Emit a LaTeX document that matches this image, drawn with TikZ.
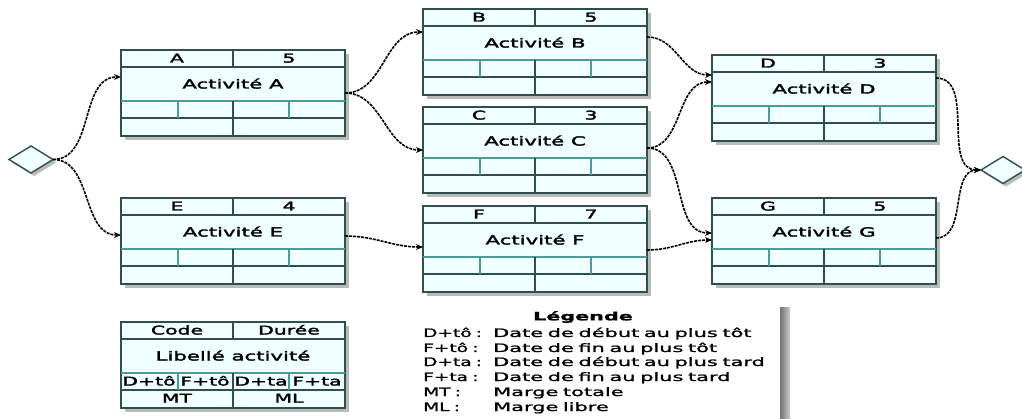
\documentclass[tikz,border=0pt]{standalone}
\usepackage{fontspec}
\newfontfamily\dgfont[FakeStretch=1.7, FakeBold=2.5]{DejaVu Sans}
\newfontfamily\dglegend[FakeStretch=1.8, FakeBold=1.5, WordSpace=0.7]{DejaVu Sans}
\newfontfamily\dgkey[FakeStretch=1.6, FakeBold=1.5, WordSpace=0.7]{DejaVu Sans}
\usetikzlibrary{arrows.meta,shapes.geometric,shadows,calc}

\definecolor{boxfill}{HTML}{F0FFFF}
\definecolor{boxline}{HTML}{2F4F4F}
\definecolor{celline}{HTML}{4E9A9A}

\tikzset{
  actbox/.style={draw=boxline, line width=1.6pt, fill=boxfill,
    minimum width=224pt, minimum height=86pt, inner sep=0pt, outer sep=0pt,
    anchor=north west,
    drop shadow={shadow xshift=4pt, shadow yshift=-4pt, opacity=0.45, fill=black!60}},
  rowline/.style={draw=boxline, line width=1.2pt},
  cellline/.style={draw=celline, line width=1.2pt},
  colline/.style={draw=boxline, line width=2pt},
  cellcol/.style={draw=celline, line width=2pt},
  boxtext/.style={font=\dgfont\fontsize{12}{14}\selectfont, inner sep=0pt,
    text height=9pt, text depth=2pt},
  titletext/.style={font=\dgfont\fontsize{12.5}{14}\selectfont, inner sep=0pt,
    text height=9pt, text depth=2pt},
  legtext/.style={font=\dglegend\fontsize{11.6}{13}\selectfont, inner sep=0pt,
    anchor=base west},
  legkey/.style={font=\dgkey\fontsize{11.6}{13}\selectfont, inner sep=0pt,
    anchor=base west},
  link/.style={draw=black, line width=1.6pt, dash pattern=on 3pt off 1pt,
    -{Stealth[length=7pt,width=6pt]}},
  milestone/.style={diamond, draw=boxline, line width=1.4pt, fill=boxfill,
    minimum width=44pt, minimum height=27pt, inner sep=0pt, outer sep=0pt,
    drop shadow={shadow xshift=3pt, shadow yshift=-3pt, opacity=0.45, fill=black!60}},
}

% Activity box: name, x, y, code, duration, label
\newcommand\ActBox[6]{%
  \node[actbox] (#1) at (#2,#3) {};
  \draw[rowline]  ($(#1.north west)+(0,17)$) -- ($(#1.north east)+(0,17)$);
  \draw[cellline] ($(#1.north west)+(0,51)$) -- ($(#1.north east)+(0,51)$);
  \draw[rowline]  ($(#1.north west)+(0,68)$) -- ($(#1.north east)+(0,68)$);
  \draw[colline]  ($(#1.north west)+(112,0)$) -- ($(#1.north west)+(112,17)$);
  \draw[colline]  ($(#1.north west)+(112,51)$) -- ($(#1.north west)+(112,86)$);
  \draw[cellcol]  ($(#1.north west)+(57,51)$) -- ($(#1.north west)+(57,68)$);
  \draw[cellcol]  ($(#1.north west)+(168,51)$) -- ($(#1.north west)+(168,68)$);
  \node[boxtext]   (#1-code)  at ($(#1.north west)+(56,9)$)   {#4};
  \node[boxtext]   (#1-dur)   at ($(#1.north west)+(168,9)$)  {#5};
  \node[titletext] (#1-label) at ($(#1.north west)+(112,35)$) {#6};
}

\begin{document}
\begin{tikzpicture}[x=1pt, y=-1pt]
\useasboundingbox (0,0) rectangle (1022,419);

% activity network
\ActBox{A}{121}{50}{A}{5}{Activité A}
\ActBox{E}{121}{198}{E}{4}{Activité E}
\ActBox{B}{423}{9}{B}{5}{Activité B}
\ActBox{C}{423}{107}{C}{3}{Activité C}
\ActBox{F}{423}{206}{F}{7}{Activité F}
\ActBox{D}{712}{55}{D}{3}{Activité D}
\ActBox{G}{712}{198}{G}{5}{Activité G}

\node[milestone] (start) at (31,159.5) {};
\node[milestone] (end) at (1003,170) {};

% precedence links
\draw[link] (start.east) to[out=0, in=180] ($(A.north west)+(0,27)$);
\draw[link] (start.east) to[out=0, in=180] ($(E.north west)+(0,37)$);
\draw[link] ($(A.north east)+(0,43)$) to[out=0, in=180] ($(B.north west)+(0,23)$);
\draw[link] ($(A.north east)+(0,43)$) to[out=0, in=180] ($(C.north west)+(0,43)$);
\draw[link] ($(B.north east)+(0,28)$) to[out=0, in=180] ($(D.north west)+(0,20)$);
\draw[link] ($(C.north east)+(0,41)$) to[out=0, in=180] ($(D.north west)+(0,27)$);
\draw[link] ($(C.north east)+(0,41)$) to[out=0, in=180] ($(G.north west)+(0,35)$);
\draw[link] ($(E.north east)+(0,38)$) to[out=0, in=180] ($(F.north west)+(0,41)$);
\draw[link] ($(F.north east)+(0,44)$) to[out=0, in=180] ($(G.north west)+(0,42)$);
\draw[link] ($(D.north east)+(0,23)$) to[out=0, in=180] (end.west);
\draw[link] ($(G.north east)+(0,40)$) to[out=0, in=180] (end.west);

% key box
\ActBox{K}{121}{322}{Code}{Durée}{Libellé activité}
\node[boxtext] (K-dto) at ($(K.north west)+(28,60)$)  {D+tô};
\node[boxtext] (K-fto) at ($(K.north west)+(84,60)$)  {F+tô};
\node[boxtext] (K-dta) at ($(K.north west)+(140,60)$) {D+ta};
\node[boxtext] (K-fta) at ($(K.north west)+(196,60)$) {F+ta};
\node[boxtext] (K-mt)  at ($(K.north west)+(56,77)$)  {MT};
\node[boxtext] (K-ml)  at ($(K.north west)+(168,77)$) {ML};

% legend
\node[font=\dglegend\bfseries\fontsize{11.5}{13}\selectfont, inner sep=0pt] (leg) at (583,317) {Légende};
\node[legkey] (l1) at (423,337) {D+tô :};
\node[legkey] (l2) at (423,352) {F+tô :};
\node[legkey] (l3) at (423,366) {D+ta :};
\node[legkey] (l4) at (423,381) {F+ta :};
\node[legkey] (l5) at (423,396) {MT :};
\node[legkey] (l6) at (423,411) {ML :};
\node[legtext] (d1) at (493,337) {Date de début au plus tôt};
\node[legtext] (d2) at (493,352) {Date de fin au plus tôt};
\node[legtext] (d3) at (493,366) {Date de début au plus tard};
\node[legtext] (d4) at (493,381) {Date de fin au plus tard};
\node[legtext] (d5) at (493,396) {Marge totale};
\node[legtext] (d6) at (493,411) {Marge libre};

\shade[left color=black!55, right color=black!20] (780,308) rectangle (790,419);
\end{tikzpicture}
\end{document}
